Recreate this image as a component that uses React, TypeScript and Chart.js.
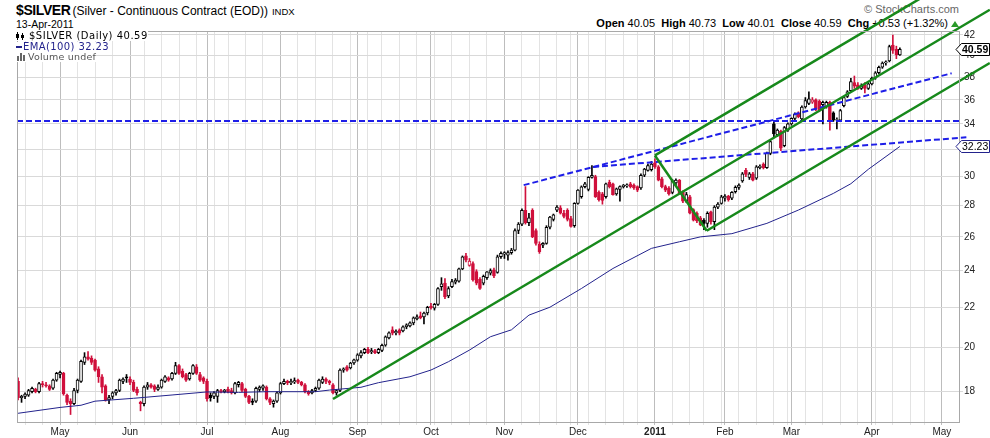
import React, { useEffect, useRef } from "react";
import { Chart, registerables } from "chart.js";

Chart.register(...registerables);

// daily candles, index 0 = 15-Apr-2010 ... index 252 = 13-Apr-2011
const opens = [
  18.45, 17.75, 17.8, 17.85, 18.0, 18.1, 18.0, 18.35, 18.3, 18.25,
  18.15, 18.5, 18.75, 18.8, 17.85, 17.6, 17.5, 18.05, 18.45, 19.3,
  19.55, 19.5, 19.4, 19.0, 18.65, 18.25, 17.65, 17.8, 17.95, 18.05,
  18.45, 18.65, 18.55, 18.4, 18.1, 17.55, 17.5, 18.2, 18.3, 18.25,
  18.1, 18.2, 18.45, 18.6, 18.55, 18.8, 19.15, 18.9, 18.75, 18.55,
  18.8, 19.1, 18.75, 18.6, 18.45, 17.85, 17.8, 17.8, 18.05, 18.0,
  18.1, 18.05, 17.95, 18.3, 18.35, 18.1, 17.8, 17.6, 17.6, 18.1,
  18.15, 18.2, 17.7, 17.5, 17.6, 17.95, 18.35, 18.45, 18.38, 18.42,
  18.5, 18.4, 18.3, 18.0, 17.95, 18.05, 18.15, 18.4, 18.55, 18.45,
  18.3, 17.95, 18.05, 18.95, 19.1, 19.05, 19.27, 19.4, 19.6, 19.75,
  19.9, 19.78, 19.85, 19.75, 19.85, 20.1, 20.45, 20.85, 20.7, 20.85,
  20.8, 21.0, 21.05, 21.2, 21.4, 21.55, 21.5, 21.7, 22.05, 21.95,
  22.15, 23.1, 23.3, 22.6, 23.1, 23.35, 23.4, 24.1, 24.85, 24.3,
  24.4, 23.95, 23.5, 23.3, 23.6, 23.85, 24.05, 23.9, 24.8, 24.95,
  24.9, 25.05, 25.2, 26.4, 26.8, 27.7, 26.9, 27.7, 26.4, 25.55,
  25.5, 25.6, 26.6, 27.1, 27.7, 27.85, 27.5, 27.7, 27.15, 26.7,
  28.15, 28.6, 29.3, 29.1, 29.95, 30.0, 28.9, 28.8, 28.6, 29.6,
  29.5, 28.8, 29.1, 29.3, 29.35, 29.5, 29.4, 29.3, 29.2, 30.1,
  30.45, 30.5, 31.0, 30.7, 29.85, 29.3, 29.2, 28.9, 29.55, 29.75,
  28.9, 28.3, 28.6, 27.75, 27.5, 27.2, 27.05, 26.85, 27.6, 26.95,
  27.9, 28.15, 28.5, 28.65, 28.5, 28.95, 29.25, 29.7, 30.45, 29.95,
  30.2, 29.9, 30.65, 30.9, 30.65, 31.7, 34.0, 33.15, 33.4, 32.3,
  33.5, 34.0, 34.45, 34.9, 34.4, 35.4, 35.7, 35.8, 36.0, 35.9,
  35.6, 35.4, 35.8, 34.9, 34.3, 34.3, 35.5, 36.3, 36.8, 37.5,
  37.3, 37.0, 37.3, 37.0, 37.4, 37.9, 38.4, 38.9, 39.3, 39.5,
  41.0, 40.6, 40.05,
];
const highs = [
  18.6, 17.85, 17.95, 18.1, 18.2, 18.15, 18.4, 18.45, 18.4, 18.3,
  18.55, 18.85, 18.9, 18.85, 17.9, 17.7, 18.15, 18.55, 19.4, 19.75,
  19.8, 19.6, 19.45, 19.1, 18.75, 18.3, 17.85, 18.0, 18.1, 18.55,
  18.6, 18.75, 18.65, 18.5, 18.2, 17.6, 18.25, 18.4, 18.35, 18.3,
  18.3, 18.55, 18.7, 18.65, 18.85, 19.3, 19.2, 19.0, 18.8, 18.85,
  19.2, 19.2, 18.85, 18.65, 18.55, 17.95, 18.0, 18.1, 18.1, 18.1,
  18.2, 18.15, 18.4, 18.45, 18.4, 18.15, 17.85, 17.7, 18.2, 18.25,
  18.3, 18.25, 17.75, 17.65, 18.0, 18.4, 18.55, 18.5, 18.55, 18.6,
  18.55, 18.45, 18.35, 18.05, 18.1, 18.2, 18.55, 18.65, 18.6, 18.5,
  18.35, 18.1, 19.0, 19.05, 19.15, 19.3, 19.45, 19.7, 19.85, 19.95,
  20.0, 19.95, 19.9, 19.95, 20.15, 20.55, 20.75, 21.0, 20.85, 20.9,
  21.05, 21.15, 21.25, 21.5, 21.6, 21.75, 21.75, 22.05, 22.2, 22.2,
  23.05, 23.6, 23.55, 23.1, 23.5, 23.55, 24.15, 24.85, 25.0, 24.7,
  24.5, 24.05, 23.6, 23.75, 23.95, 24.1, 24.15, 24.9, 25.1, 25.1,
  25.15, 25.3, 26.5, 26.9, 27.8, 29.3, 27.5, 27.8, 26.5, 25.7,
  25.65, 26.7, 27.3, 27.45, 28.0, 28.0, 27.7, 27.8, 27.3, 28.2,
  29.1, 29.35, 29.6, 30.0, 30.8, 30.1, 29.0, 28.9, 29.55, 29.75,
  29.55, 29.2, 29.35, 29.45, 29.5, 29.6, 29.5, 29.35, 30.2, 30.6,
  30.9, 31.1, 31.3, 30.8, 29.95, 29.4, 29.3, 29.8, 29.85, 29.8,
  29.0, 28.9, 28.7, 27.8, 27.6, 27.3, 27.15, 27.6, 27.65, 28.0,
  28.2, 28.7, 28.75, 28.7, 28.95, 29.35, 29.5, 30.3, 30.6, 30.3,
  30.3, 30.8, 30.85, 31.0, 31.8, 32.7, 34.3, 33.6, 33.5, 33.8,
  34.1, 34.5, 34.9, 35.0, 35.5, 36.2, 36.7, 36.2, 36.1, 36.0,
  35.9, 35.9, 35.9, 35.0, 34.5, 35.2, 36.3, 36.8, 37.9, 38.1,
  37.5, 37.4, 37.5, 37.5, 38.0, 38.5, 39.0, 39.4, 39.5, 41.0,
  42.0, 40.9, 40.73,
];
const lows = [
  17.65, 17.55, 17.7, 17.8, 17.95, 17.95, 17.95, 18.2, 18.2, 18.05,
  18.1, 18.45, 18.6, 17.85, 17.45, 17.05, 17.45, 17.95, 18.4, 19.2,
  19.4, 19.2, 18.9, 18.4, 17.95, 17.6, 17.5, 17.7, 17.85, 18.0,
  18.35, 18.4, 18.3, 18.0, 17.85, 17.2, 17.4, 18.1, 18.15, 18.0,
  18.05, 18.15, 18.4, 18.45, 18.5, 18.75, 18.75, 18.6, 18.45, 18.5,
  18.75, 18.75, 18.45, 18.35, 17.6, 17.6, 17.7, 17.55, 17.95, 17.95,
  17.95, 17.9, 17.9, 18.2, 18.0, 17.75, 17.5, 17.45, 17.55, 18.0,
  18.05, 17.65, 17.45, 17.35, 17.55, 17.9, 18.3, 18.3, 18.3, 18.35,
  18.35, 18.25, 17.95, 17.85, 17.9, 18.0, 18.1, 18.35, 18.35, 18.3,
  17.9, 17.85, 18.0, 18.85, 18.9, 19.0, 19.2, 19.35, 19.5, 19.7,
  19.7, 19.7, 19.7, 19.7, 19.8, 20.05, 20.4, 20.6, 20.6, 20.6,
  20.75, 20.9, 21.0, 21.1, 21.35, 21.4, 21.15, 21.6, 21.9, 21.85,
  22.1, 22.9, 22.45, 22.5, 23.05, 23.25, 23.35, 24.05, 24.5, 24.25,
  23.4, 23.2, 22.95, 23.2, 23.5, 23.75, 23.6, 23.85, 24.7, 24.7,
  24.6, 24.95, 25.15, 26.2, 26.7, 26.8, 26.7, 25.95, 25.5, 25.0,
  25.35, 25.55, 26.5, 27.0, 27.6, 27.45, 27.2, 27.0, 26.6, 26.6,
  28.1, 28.5, 29.2, 29.0, 29.9, 28.55, 28.3, 28.1, 28.5, 29.2,
  28.7, 28.7, 28.3, 29.2, 29.25, 29.2, 29.1, 28.95, 29.1, 30.0,
  30.4, 30.4, 30.6, 29.7, 29.2, 28.95, 28.7, 28.8, 29.4, 28.8,
  28.2, 28.2, 27.45, 27.0, 26.9, 26.7, 26.45, 26.6, 26.8, 26.45,
  27.8, 28.1, 28.3, 28.3, 28.4, 28.85, 29.1, 29.6, 30.0, 29.8,
  29.7, 29.8, 30.55, 30.55, 30.6, 31.6, 32.9, 33.0, 31.9, 32.2,
  33.4, 33.9, 34.3, 34.5, 34.3, 35.3, 35.6, 35.7, 35.1, 35.0,
  34.0, 35.3, 33.5, 34.2, 33.6, 34.2, 35.4, 36.2, 36.7, 37.0,
  36.9, 36.9, 36.6, 36.9, 37.3, 37.8, 38.3, 38.8, 39.1, 39.4,
  40.2, 39.7, 40.01,
];
const closes = [
  17.75, 17.8, 17.9, 18.05, 18.15, 18.0, 18.35, 18.3, 18.25, 18.1,
  18.5, 18.8, 18.85, 17.9, 17.55, 17.5, 18.05, 18.5, 19.35, 19.55,
  19.45, 19.3, 18.95, 18.65, 18.2, 17.65, 17.75, 17.95, 18.05, 18.5,
  18.55, 18.6, 18.4, 18.05, 17.95, 17.5, 18.2, 18.3, 18.2, 18.1,
  18.2, 18.5, 18.65, 18.5, 18.8, 19.15, 18.8, 18.65, 18.5, 18.8,
  19.15, 18.8, 18.5, 18.45, 17.7, 17.75, 17.95, 18.05, 18.0, 18.07,
  18.0, 17.95, 18.35, 18.4, 18.05, 17.8, 17.55, 17.55, 18.15, 18.2,
  18.25, 17.7, 17.55, 17.6, 17.95, 18.35, 18.45, 18.38, 18.45, 18.48,
  18.4, 18.3, 18.0, 17.92, 18.05, 18.15, 18.5, 18.55, 18.45, 18.38,
  17.95, 18.05, 18.95, 19.0, 18.95, 19.27, 19.42, 19.65, 19.75, 19.9,
  19.75, 19.85, 19.75, 19.9, 20.1, 20.5, 20.7, 20.68, 20.78, 20.68,
  21.0, 21.1, 21.2, 21.45, 21.5, 21.45, 21.7, 22.0, 21.98, 22.15,
  23.0, 23.25, 22.55, 23.0, 23.38, 23.47, 24.1, 24.8, 24.6, 24.55,
  23.47, 23.3, 23.0, 23.67, 23.93, 24.0, 23.7, 24.8, 25.0, 25.05,
  25.05, 25.2, 26.4, 26.8, 27.7, 26.9, 27.2, 26.0, 25.6, 25.1,
  25.6, 26.6, 27.25, 27.4, 27.9, 27.5, 27.3, 27.1, 26.65, 28.15,
  29.05, 29.28, 29.5, 29.95, 30.1, 28.6, 28.4, 28.35, 29.5, 29.3,
  28.75, 29.15, 29.3, 29.4, 29.42, 29.3, 29.2, 29.05, 30.1, 30.55,
  30.8, 30.9, 30.7, 29.75, 29.3, 29.05, 28.8, 29.7, 29.75, 28.85,
  28.3, 28.75, 27.5, 27.05, 27.0, 26.75, 26.85, 27.5, 26.95, 27.9,
  28.1, 28.6, 28.65, 28.4, 28.9, 29.25, 29.4, 30.2, 30.15, 30.2,
  29.75, 30.7, 30.75, 30.65, 31.7, 32.6, 33.2, 33.5, 32.1, 33.7,
  34.0, 34.45, 34.8, 34.6, 35.4, 35.95, 36.1, 36.0, 35.2, 35.1,
  35.8, 35.8, 34.2, 34.3, 34.35, 35.1, 36.2, 36.7, 37.6, 37.2,
  37.0, 37.25, 37.0, 37.4, 37.9, 38.4, 38.9, 39.3, 39.4, 40.85,
  40.5, 40.06, 40.59,
];

// EMA(100) at these day indexes
const emaIdx = [0, 12, 18, 22, 33, 44, 54, 63, 71, 85, 89, 98, 103, 112, 118, 123, 129, 135, 141, 146, 152, 161, 170, 181, 189, 195, 204, 214, 223, 233, 238, 243, 252];
const emaVal = [17.1, 17.34, 17.43, 17.6, 17.72, 17.86, 17.99, 17.97, 18.0, 18.0, 18.07, 18.19, 18.39, 18.65, 18.95, 19.33, 19.87, 20.51, 20.85, 21.59, 22.0, 23.0, 24.12, 25.3, 25.7, 26.0, 26.2, 26.85, 27.71, 28.83, 29.5, 30.53, 32.23];

// axis ticks
const monthIdx = [12, 32, 54, 75, 97, 118, 139, 160, 182, 202, 221, 244, 264];
const monthLabels = ["May", "Jun", "Jul", "Aug", "Sep", "Oct", "Nov", "Dec", "2011", "Feb", "Mar", "Apr", "May"];
const weekIdx = [2, 7, 12, 17, 22, 27, 32, 36, 41, 46, 51, 56, 60, 65, 70, 75, 80, 85, 90, 95, 100, 104, 109, 114, 119, 124, 129, 134, 139, 144, 149, 154, 158, 163, 168, 173, 177, 182, 187, 192, 196, 201, 206, 211, 216, 220, 225, 230, 235, 240, 245, 250, 255, 259, 264];
const priceTicks = [18, 20, 22, 24, 26, 28, 30, 32, 34, 36, 38, 40, 42];

// drawn trend lines, [day index, price] end points
const forkMedian = [[90, 17.69], [277.7, 44.6]];
const forkUpper = [[182, 31.55], [277.7, 50.5]];
const forkLower = [[196.8, 26.38], [277.7, 39.3]];
const forkHandle = [[182, 31.55], [196.8, 26.38]];
const resistLine = [[144.5, 29.4], [266.8, 38.35]];
const supportLine = [[164.3, 30.7], [271, 32.94]];
const flatLine = [[-0.3, 34.24], [268.9, 34.24]];

const RED = "#d0103c";
const GREEN = "#17891b";
const BLUE = "#1e1ee8";
const NAVY = "#23238c";

const pts = (arr: number[][]) => arr.map(([x, y]) => ({ x, y }));

const candleColor = closes.map((c, i) => (c < (i === 0 ? opens[0] : closes[i - 1]) ? RED : "#000"));
const candleFill = closes.map((c, i) => (c < opens[i] ? candleColor[i] : "#fff"));

const allTicks = Array.from(new Set([...weekIdx, ...monthIdx])).sort((a, b) => a - b);

const frame = {
  id: "frame",
  afterDraw(chart: any) {
    const { ctx, chartArea: a } = chart;
    ctx.save();
    ctx.strokeStyle = "#a8a8a8";
    ctx.lineWidth = 1;
    ctx.strokeRect(a.left + 0.5, a.top + 0.5, a.right - a.left, a.bottom - a.top);
    ctx.restore();
  },
};

const valueTags = {
  id: "valueTags",
  afterDraw(chart: any) {
    const { ctx } = chart;
    const y = chart.scales.y;
    const tags = [
      { v: closes[closes.length - 1], color: "#000", bold: true },
      { v: emaVal[emaVal.length - 1], color: NAVY, bold: false },
    ];
    ctx.save();
    tags.forEach((t) => {
      const py = Math.round(y.getPixelForValue(t.v)) + 0.5;
      ctx.beginPath();
      ctx.moveTo(956, py);
      ctx.lineTo(961.5, py - 6);
      ctx.lineTo(989.5, py - 6);
      ctx.lineTo(989.5, py + 6);
      ctx.lineTo(961.5, py + 6);
      ctx.closePath();
      ctx.fillStyle = "#fff";
      ctx.fill();
      ctx.strokeStyle = t.color;
      ctx.lineWidth = 1;
      ctx.stroke();
      ctx.fillStyle = "#000";
      ctx.font = `${t.bold ? "bold " : ""}10.5px "Liberation Sans", Arial, sans-serif`;
      ctx.textBaseline = "middle";
      ctx.textAlign = "left";
      ctx.fillText(t.v.toFixed(2), 962, py + 0.5);
    });
    ctx.restore();
  },
};

const trend = (data: number[][], color: string, dash: number[] = [], width = 2.5) => ({
  type: "line" as const,
  data: pts(data),
  borderColor: color,
  borderWidth: width,
  borderDash: dash,
  pointRadius: 0,
  clip: false as const,
  order: 0,
});

export default function App() {
  const canvasRef = useRef<HTMLCanvasElement>(null);

  useEffect(() => {
    if (!canvasRef.current) return;
    Chart.defaults.font.family = '"Liberation Sans", Arial, sans-serif';
    const chart = new Chart(canvasRef.current, {
      type: "bar",
      data: {
        datasets: [
          trend(forkMedian, GREEN),
          trend(forkUpper, GREEN),
          trend(forkLower, GREEN),
          trend(forkHandle, GREEN),
          trend(resistLine, BLUE, [6, 3], 2),
          trend(supportLine, BLUE, [6, 3], 2),
          trend(flatLine, BLUE, [6, 3], 2),
          {
            type: "line",
            data: emaIdx.map((x, k) => ({ x, y: emaVal[k] })),
            borderColor: NAVY,
            borderWidth: 1,
            pointRadius: 0,
            order: 1,
          },
          {
            type: "bar",
            data: opens.map((o, i) => ({ x: i, y: [o, closes[i]] })),
            backgroundColor: candleFill,
            borderColor: candleColor,
            borderWidth: 1,
            borderSkipped: false,
            barThickness: 3,
            grouped: false,
            order: 2,
          },
          {
            type: "bar",
            data: highs.map((h, i) => ({ x: i, y: [lows[i], h] })),
            backgroundColor: candleColor,
            barThickness: 1,
            grouped: false,
            order: 3,
          },
        ] as any,
      },
      options: {
        responsive: false,
        animation: false,
        layout: { padding: { left: 17, top: 31, right: 0, bottom: 0 } },
        plugins: { legend: { display: false }, tooltip: { enabled: false } },
        scales: {
          x: {
            type: "linear",
            min: -0.3,
            max: 268.9,
            offset: false,
            afterBuildTicks: (s: any) => {
              s.ticks = allTicks.map((value) => ({ value }));
            },
            afterFit: (s: any) => {
              s.height = 16;
            },
            grid: {
              offset: false,
              tickLength: 3,
              color: (c: any) => (c.tick && monthIdx.includes(c.tick.value) ? "#bdbdbd" : "#e3e3e3"),
            },
            border: { color: "#a8a8a8" },
            ticks: {
              autoSkip: false,
              maxRotation: 0,
              padding: 1,
              color: "#222",
              font: (c: any) => ({
                size: 10,
                weight: c.tick && c.tick.value === 182 ? "bold" : "normal",
              }),
              callback: (v: any) => {
                const k = monthIdx.indexOf(Number(v));
                return k >= 0 ? monthLabels[k] : "";
              },
            },
          },
          y: {
            type: "logarithmic",
            position: "right",
            min: 16.75,
            max: 42.4,
            afterBuildTicks: (s: any) => {
              s.ticks = priceTicks.map((value) => ({ value }));
            },
            afterFit: (s: any) => {
              s.width = 31;
            },
            grid: { color: "#d9d9d9", tickLength: 4 },
            border: { color: "#a8a8a8" },
            ticks: {
              autoSkip: false,
              padding: 1,
              color: "#222",
              font: { size: 10 },
              callback: (v: any) => String(v),
            },
          },
        },
      },
      plugins: [frame, valueTags],
    });
    return () => chart.destroy();
  }, []);

  const sans = '"Liberation Sans", Arial, sans-serif';
  const dv = '"DejaVu Sans", Verdana, sans-serif';
  const row = { position: "absolute" as const, fontFamily: dv, lineHeight: "10px", display: "flex", alignItems: "center", zIndex: 2 };

  return (
    <div style={{ position: "absolute", left: 0, top: 0, width: 990, height: 438, background: "#fff", fontFamily: sans, color: "#000", overflow: "hidden" }}>
      <div style={{ position: "absolute", left: 16, top: 2, display: "flex", alignItems: "baseline", whiteSpace: "pre" }}>
        <span style={{ fontWeight: "bold", fontSize: 14, letterSpacing: -0.4 }}>$SILVER</span>
        <span style={{ fontSize: 12, marginLeft: 2 }}>(Silver - Continuous Contract (EOD))</span>
        <span style={{ fontSize: 9.5, marginLeft: 4 }}>INDX</span>
      </div>
      <div style={{ position: "absolute", left: 16, top: 18, fontSize: 10.5, lineHeight: "12px" }}>13-Apr-2011</div>
      <div style={{ position: "absolute", right: 31, top: 3, fontSize: 11, lineHeight: "12px", color: "#666" }}>© StockCharts.com</div>
      <div style={{ position: "absolute", right: 42, top: 17, fontSize: 11, lineHeight: "13px", whiteSpace: "pre" }}>
        <b>Open</b> 40.05  <b>High</b> 40.73  <b>Low</b> 40.01  <b>Close</b> 40.59  <b>Chg</b> +0.53 (+1.32%)
      </div>
      <div style={{ position: "absolute", left: 951, top: 21, width: 0, height: 0, borderLeft: "4px solid transparent", borderRight: "4px solid transparent", borderBottom: "6px solid #2a9a2a" }} />

      <canvas ref={canvasRef} width={990} height={438} style={{ position: "absolute", left: 0, top: 0, zIndex: 1 }} />

      <div style={{ ...row, left: 16, top: 31, fontSize: 10, letterSpacing: 0.5, background: "#fff" }}>
        <svg width="10" height="8" style={{ marginRight: 3 }}>
          <rect x="1" y="0" width="1" height="8" fill="#000" />
          <rect x="0" y="2" width="3" height="4" fill="#000" />
          <rect x="6" y="1" width="1" height="7" fill="#000" />
          <rect x="5" y="3" width="3" height="3" fill="#000" />
        </svg>
        $SILVER (Daily) 40.59
      </div>
      <div style={{ ...row, left: 16, top: 42, fontSize: 10, letterSpacing: 0.4, color: NAVY, background: "#fff" }}>
        <span style={{ display: "inline-block", width: 6, height: 2, background: NAVY, marginRight: 1 }} />
        EMA(100) 32.23
      </div>
      <div style={{ ...row, left: 16, top: 52, fontSize: 9.5, letterSpacing: 0.2, color: "#555", background: "#fff" }}>
        <svg width="10" height="8" style={{ marginRight: 2 }}>
          <rect x="1" y="3" width="2" height="5" fill="#666" />
          <rect x="4" y="0" width="2" height="8" fill="#666" />
          <rect x="7" y="2" width="2" height="6" fill="#666" />
        </svg>
        Volume undef
      </div>
    </div>
  );
}
